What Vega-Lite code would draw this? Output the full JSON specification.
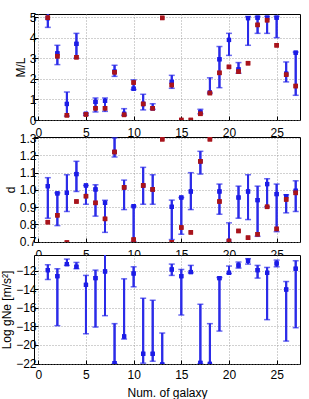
{
  "$schema": "https://vega.github.io/schema/vega-lite/v6.json",
  "padding": {"left": 0, "top": 10, "right": 3, "bottom": 0},
  "background": "white",
  "datasets": {
    "ml": [
      {"g": 1, "v": 4.95, "lo": 4.5, "hi": 5.4, "r": 4.97},
      {"g": 2, "v": 3.24, "lo": 2.69, "hi": 3.63, "r": 3.1},
      {"g": 3, "v": 0.78, "lo": 0.19, "hi": 1.36, "r": 0.23},
      {"g": 4, "v": 3.7, "lo": 3.0, "hi": 4.21, "r": 3.05},
      {"g": 5, "v": 0.3, "lo": 0.23, "hi": 0.33, "r": 0.27},
      {"g": 6, "v": 0.88, "lo": 0.39, "hi": 1.07, "r": 0.57},
      {"g": 7, "v": 0.93, "lo": 0.42, "hi": 1.07, "r": 0.57},
      {"g": 8, "v": 2.35, "lo": 2.12, "hi": 2.66, "r": 2.32},
      {"g": 9, "v": 0.3, "lo": 0.23, "hi": 0.55, "r": 0.25},
      {"g": 10, "v": 1.52, "lo": 1.48, "hi": 1.95, "r": 1.82},
      {"g": 11, "v": 0.78, "lo": 0.49, "hi": 1.25, "r": 0.78},
      {"g": 12, "v": 0.57, "lo": 0.52, "hi": 0.79, "r": 0.57},
      {"g": 13, "v": null, "lo": null, "hi": null, "r": 4.96},
      {"g": 14, "v": 1.85, "lo": 1.54, "hi": 2.17, "r": 1.7},
      {"g": 15, "v": null, "lo": null, "hi": null, "r": 0.0},
      {"g": 16, "v": null, "lo": null, "hi": null, "r": 0.0},
      {"g": 17, "v": 0.38, "lo": 0.3, "hi": 0.52, "r": 0.3},
      {"g": 18, "v": 1.33, "lo": 1.31, "hi": 2.05, "r": 1.31},
      {"g": 19, "v": 2.95, "lo": 1.57, "hi": 3.57, "r": 2.29},
      {"g": 20, "v": 3.89, "lo": 3.14, "hi": 4.21, "r": 2.58},
      {"g": 21, "v": 2.46, "lo": 2.27, "hi": 2.79, "r": 2.35},
      {"g": 22, "v": 4.95, "lo": 3.63, "hi": 5.03, "r": 2.76},
      {"g": 23, "v": 4.97, "lo": 4.21, "hi": 5.03, "r": 4.62},
      {"g": 24, "v": 4.97, "lo": 4.21, "hi": 5.03, "r": 4.85},
      {"g": 25, "v": 4.97, "lo": 4.0, "hi": 5.03, "r": 3.63},
      {"g": 26, "v": 2.25, "lo": 1.85, "hi": 2.82, "r": 2.2},
      {"g": 27, "v": 3.27, "lo": 1.2, "hi": 3.3, "r": 1.65}
    ],
    "d": [
      {"g": 1, "v": 1.022, "lo": 0.836, "hi": 1.071, "r": 0.813},
      {"g": 2, "v": 0.98, "lo": 0.793, "hi": 0.983, "r": 0.853},
      {"g": 3, "v": 0.983, "lo": 0.875, "hi": 1.088, "r": 0.695},
      {"g": 4, "v": 1.092, "lo": 0.991, "hi": 1.166, "r": 0.933},
      {"g": 5, "v": 1.026, "lo": 0.917, "hi": 1.026, "r": 0.964},
      {"g": 6, "v": 1.003, "lo": 0.848, "hi": 1.03, "r": 0.925},
      {"g": 7, "v": 0.925, "lo": 0.754, "hi": 0.94, "r": 0.832},
      {"g": 8, "v": 1.22, "lo": 1.191, "hi": 1.302, "r": 1.22},
      {"g": 9, "v": 1.015, "lo": 0.886, "hi": 1.057, "r": 1.015},
      {"g": 10, "v": 0.906, "lo": 0.7, "hi": 0.906, "r": 0.712},
      {"g": 11, "v": 1.026, "lo": 0.917, "hi": 1.131, "r": 1.026},
      {"g": 12, "v": 1.003, "lo": 0.917, "hi": 1.088, "r": 1.003},
      {"g": 13, "v": null, "lo": null, "hi": null, "r": 1.294},
      {"g": 14, "v": 0.902, "lo": 0.712, "hi": 0.941, "r": 0.696},
      {"g": 15, "v": 0.956, "lo": 0.743, "hi": 0.956, "r": 0.782},
      {"g": 16, "v": 0.991, "lo": 0.886, "hi": 1.1, "r": 0.754},
      {"g": 17, "v": 1.166, "lo": 1.092, "hi": 1.224, "r": 1.166},
      {"g": 18, "v": null, "lo": null, "hi": null, "r": 1.294},
      {"g": 19, "v": 0.991, "lo": 0.859, "hi": 1.034, "r": 0.933},
      {"g": 20, "v": 0.704, "lo": 0.696, "hi": 0.809, "r": 0.704},
      {"g": 21, "v": 0.956, "lo": 0.836, "hi": 1.022, "r": 0.762},
      {"g": 22, "v": 0.991, "lo": 0.828, "hi": 1.088, "r": 0.723},
      {"g": 23, "v": 0.941, "lo": 0.731, "hi": 1.022, "r": 0.743},
      {"g": 24, "v": 1.034, "lo": 0.902, "hi": 1.065, "r": 0.902},
      {"g": 25, "v": 0.976, "lo": 0.758, "hi": 1.034, "r": 0.774},
      {"g": 26, "v": 0.964, "lo": 0.867, "hi": 0.972, "r": 0.945},
      {"g": 27, "v": 0.995, "lo": 0.875, "hi": 1.053, "r": 0.983}
    ],
    "gne": [
      {"g": 1, "v": -11.93, "lo": -12.94, "hi": -11.35},
      {"g": 2, "v": -12.58, "lo": -17.92, "hi": -11.78},
      {"g": 3, "v": -11.28, "lo": -11.42, "hi": -10.74},
      {"g": 4, "v": -11.57, "lo": -11.78, "hi": -11.1},
      {"g": 5, "v": -13.52, "lo": -18.79, "hi": -12.5},
      {"g": 6, "v": -12.79, "lo": -18.07, "hi": -11.93},
      {"g": 7, "v": -12.07, "lo": -16.84, "hi": -10.0},
      {"g": 8, "v": -21.96, "lo": -22.04, "hi": -17.7},
      {"g": 9, "v": -19.08, "lo": -19.36, "hi": -12.87},
      {"g": 10, "v": -12.29, "lo": -13.73, "hi": -11.57},
      {"g": 11, "v": -20.95, "lo": -21.96, "hi": -14.96},
      {"g": 12, "v": -20.95, "lo": -21.75, "hi": -15.18},
      {"g": 13, "v": -22.1, "lo": -22.1, "hi": -18.71},
      {"g": 14, "v": -11.86, "lo": -12.5, "hi": -11.28},
      {"g": 15, "v": -12.58, "lo": -16.77, "hi": -11.86},
      {"g": 16, "v": -12.14, "lo": -12.22, "hi": -11.42},
      {"g": 17, "v": -21.93, "lo": -22.04, "hi": -15.61},
      {"g": 18, "v": -22.04, "lo": -22.1, "hi": -17.7},
      {"g": 19, "v": -12.79, "lo": -18.5, "hi": -12.72},
      {"g": 20, "v": -12.22, "lo": -12.29, "hi": -11.49},
      {"g": 21, "v": -11.42, "lo": -11.71, "hi": -11.06},
      {"g": 22, "v": -10.92, "lo": -11.28, "hi": -10.7},
      {"g": 23, "v": -11.93, "lo": -12.79, "hi": -11.42},
      {"g": 24, "v": -12.22, "lo": -17.27, "hi": -11.64},
      {"g": 25, "v": -11.21, "lo": -11.57, "hi": -10.85},
      {"g": 26, "v": -14.02, "lo": -19.58, "hi": -13.16},
      {"g": 27, "v": -11.78, "lo": -18.14, "hi": -10.92}
    ]
  },
  "bounds": "flush",
  "spacing": 17,
  "vconcat": [
    {
      "data": {"name": "ml"},
      "width": 266,
      "height": 106,
      "transform": [{"fold": ["lo", "hi"], "as": ["end", "endval"]}],
      "encoding": {
        "x": {"field": "g", "type": "quantitative", "scale": {"domain": [-0.45, 27.45], "nice": false, "zero": false},
              "axis": {"values": [0, 5, 10, 15, 20, 25], "title": null, "labelPadding": 11}}
      },
      "layer": [
        {"mark": {"type": "rule", "color": "#2b2be8", "strokeWidth": 2, "clip": true},
         "encoding": {"y": {"field": "lo", "type": "quantitative", "scale": {"domain": [0, 5.15], "nice": false},
                            "axis": {"values": [0, 1, 2, 3, 4, 5], "tickCount": 6, "title": "M/L", "titlePadding": 2}},
                      "y2": {"field": "hi"}}},
        {"mark": {"type": "tick", "orient": "horizontal", "color": "#2b2be8", "size": 6, "thickness": 1.5, "clip": true},
         "encoding": {"y": {"field": "endval", "type": "quantitative", "axis": {"values": [0, 1, 2, 3, 4, 5], "tickCount": 6, "title": "M/L", "titlePadding": 2}}}},
        {"mark": {"type": "point", "shape": "square", "filled": true, "size": 18, "color": "#1c1ce6", "opacity": 1, "clip": true},
         "encoding": {"y": {"field": "v", "type": "quantitative", "axis": {"values": [0, 1, 2, 3, 4, 5], "tickCount": 6, "title": "M/L", "titlePadding": 2}}}},
        {"mark": {"type": "point", "shape": "square", "filled": true, "size": 20, "color": "#a8141c", "opacity": 1, "clip": true},
         "encoding": {"y": {"field": "r", "type": "quantitative", "axis": {"values": [0, 1, 2, 3, 4, 5], "tickCount": 6, "title": "M/L", "titlePadding": 2}}}}
      ]
    },
    {
      "bounds": "flush",
      "spacing": 13,
      "vconcat": [
        {
          "data": {"name": "d"},
          "width": 266,
          "height": 105,
          "transform": [{"fold": ["lo", "hi"], "as": ["end", "endval"]}],
          "encoding": {
            "x": {"field": "g", "type": "quantitative", "scale": {"domain": [-0.45, 27.45], "nice": false, "zero": false},
                  "axis": {"values": [0, 5, 10, 15, 20, 25], "title": null, "labelPadding": 11}}
          },
          "layer": [
            {"mark": {"type": "rule", "color": "#2b2be8", "strokeWidth": 2, "clip": true},
             "encoding": {"y": {"field": "lo", "type": "quantitative", "scale": {"domain": [0.698, 1.307], "nice": false, "zero": false},
                                "axis": {"values": [0.7, 0.8, 0.9, 1.0, 1.1, 1.2, 1.3], "tickCount": 7, "format": ".1f", "title": "d", "titlePadding": 2}},
                          "y2": {"field": "hi"}}},
            {"mark": {"type": "tick", "orient": "horizontal", "color": "#2b2be8", "size": 6, "thickness": 1.5, "clip": true},
             "encoding": {"y": {"field": "endval", "type": "quantitative", "axis": {"values": [0.7, 0.8, 0.9, 1.0, 1.1, 1.2, 1.3], "tickCount": 7, "format": ".1f", "title": "d", "titlePadding": 2}}}},
            {"mark": {"type": "point", "shape": "square", "filled": true, "size": 18, "color": "#1c1ce6", "opacity": 1, "clip": true},
             "encoding": {"y": {"field": "v", "type": "quantitative", "axis": {"values": [0.7, 0.8, 0.9, 1.0, 1.1, 1.2, 1.3], "tickCount": 7, "format": ".1f", "title": "d", "titlePadding": 2}}}},
            {"mark": {"type": "point", "shape": "square", "filled": true, "size": 20, "color": "#a8141c", "opacity": 1, "clip": true},
             "encoding": {"y": {"field": "r", "type": "quantitative", "axis": {"values": [0.7, 0.8, 0.9, 1.0, 1.1, 1.2, 1.3], "tickCount": 7, "format": ".1f", "title": "d", "titlePadding": 2}}}}
          ]
        },
        {
          "data": {"name": "gne"},
          "width": 266,
          "height": 109,
          "transform": [{"fold": ["lo", "hi"], "as": ["end", "endval"]}],
          "encoding": {
            "x": {"field": "g", "type": "quantitative", "scale": {"domain": [-0.45, 27.45], "nice": false, "zero": false},
                  "axis": {"values": [0, 5, 10, 15, 20, 25], "title": "Num. of galaxy", "labelPadding": 9, "titlePadding": 7}}
          },
          "layer": [
            {"mark": {"type": "rule", "color": "#2b2be8", "strokeWidth": 2, "clip": true},
             "encoding": {"y": {"field": "lo", "type": "quantitative", "scale": {"domain": [-22.05, -10.3], "nice": false, "zero": false},
                                "axis": {"values": [-22, -20, -18, -16, -14, -12], "tickCount": 6, "title": "Log gNe [m/s²]", "titlePadding": 2}},
                          "y2": {"field": "hi"}}},
            {"mark": {"type": "tick", "orient": "horizontal", "color": "#2b2be8", "size": 6, "thickness": 1.5, "clip": true},
             "encoding": {"y": {"field": "endval", "type": "quantitative", "axis": {"values": [-22, -20, -18, -16, -14, -12], "tickCount": 6, "title": "Log gNe [m/s²]", "titlePadding": 2}}}},
            {"mark": {"type": "point", "shape": "square", "filled": true, "size": 18, "color": "#1c1ce6", "opacity": 1, "clip": true},
             "encoding": {"y": {"field": "v", "type": "quantitative", "axis": {"values": [-22, -20, -18, -16, -14, -12], "tickCount": 6, "title": "Log gNe [m/s²]", "titlePadding": 2}}}}
          ]
        }
      ]
    }
  ],
  "config": {
    "font": "Liberation Sans",
    "view": {"stroke": "black", "strokeWidth": 1, "fill": "white"},
    "axis": {
      "domain": false,
      "tickColor": "black",
      "tickSize": -4,
      "tickWidth": 1,
      "labelFont": "Liberation Sans",
      "labelFontSize": 12,
      "labelColor": "black",
      "labelFlush": false,
      "labelOverlap": false,
      "titleFont": "Liberation Sans",
      "titleFontSize": 12,
      "titleFontWeight": "normal",
      "titleColor": "black",
      "grid": true,
      "gridColor": "#8c8c8c",
      "gridDash": [1, 2],
      "gridWidth": 0.8
    }
  }
}
